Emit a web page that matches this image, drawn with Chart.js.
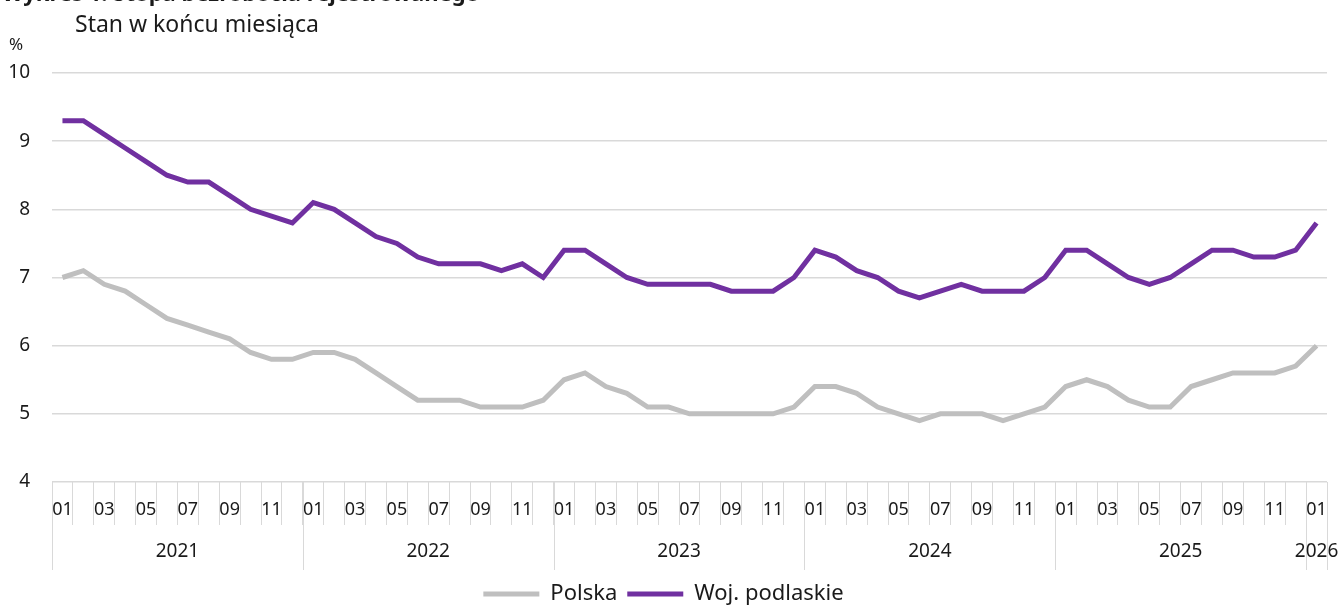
<!DOCTYPE html>
<html>
<head>
<meta charset="utf-8">
<script src="https://cdn.jsdelivr.net/npm/chart.js@4.4.1/dist/chart.umd.min.js"></script>
<style>
  html, body { margin: 0; padding: 0; background: #fff; }
  #wrap { width: 1342px; height: 605px; }
</style>
</head>
<body>
<div id="wrap"><canvas id="unemp"></canvas></div>
<script>
// months 2021-01 .. 2026-01
const years = ['2021', '2022', '2023', '2024', '2025', '2026'];
const monthNames = ['01','02','03','04','05','06','07','08','09','10','11','12'];

const labels = [];
years.forEach(y => {
    const n = y === '2026' ? 1 : 12;
    for (let m = 0; m < n; m++) labels.push(y + '-' + monthNames[m]);
});

const polska = [
    7.0, 7.1, 6.9, 6.8, 6.6, 6.4, 6.3, 6.2, 6.1, 5.9, 5.8, 5.8,
    5.9, 5.9, 5.8, 5.6, 5.4, 5.2, 5.2, 5.2, 5.1, 5.1, 5.1, 5.2,
    5.5, 5.6, 5.4, 5.3, 5.1, 5.1, 5.0, 5.0, 5.0, 5.0, 5.0, 5.1,
    5.4, 5.4, 5.3, 5.1, 5.0, 4.9, 5.0, 5.0, 5.0, 4.9, 5.0, 5.1,
    5.4, 5.5, 5.4, 5.2, 5.1, 5.1, 5.4, 5.5, 5.6, 5.6, 5.6, 5.7,
    6.0
];

const podlaskie = [
    9.3, 9.3, 9.1, 8.9, 8.7, 8.5, 8.4, 8.4, 8.2, 8.0, 7.9, 7.8,
    8.1, 8.0, 7.8, 7.6, 7.5, 7.3, 7.2, 7.2, 7.2, 7.1, 7.2, 7.0,
    7.4, 7.4, 7.2, 7.0, 6.9, 6.9, 6.9, 6.9, 6.8, 6.8, 6.8, 7.0,
    7.4, 7.3, 7.1, 7.0, 6.8, 6.7, 6.8, 6.9, 6.8, 6.8, 6.8, 7.0,
    7.4, 7.4, 7.2, 7.0, 6.9, 7.0, 7.2, 7.4, 7.4, 7.3, 7.3, 7.4,
    7.8
];

const FONT = "'Noto Sans', sans-serif";
const TXT = '#1a1a1a';
const GRID = '#d9d9d9';

// titles, % unit, year row under the month ticks
const extras = {
    id: 'extras',
    afterDraw(chart) {
        const ctx = chart.ctx;
        const x = chart.scales.x;
        const area = chart.chartArea;
        ctx.save();
        ctx.fillStyle = TXT;
        ctx.font = "bold 22px " + FONT;
        ctx.textBaseline = 'alphabetic';
        ctx.fillText('Wykres 1. Stopa bezrobocia rejestrowanego', 2, 1);
        ctx.font = "23px " + FONT;
        ctx.textBaseline = 'middle';
        ctx.fillText('Stan w końcu miesiąca', 75, 25);
        ctx.font = "17px " + FONT;
        ctx.fillText('%', 9, 45);

        // year separators and labels
        const step = x.getPixelForValue(1) - x.getPixelForValue(0);
        const edge = i => {
            if (i <= 0) return x.getPixelForValue(0) - step / 2;
            if (i >= labels.length) return x.getPixelForValue(labels.length - 1) + step / 2;
            return (x.getPixelForValue(i - 1) + x.getPixelForValue(i)) / 2;
        };
        ctx.strokeStyle = GRID;
        ctx.lineWidth = 1;
        ctx.font = "19px " + FONT;
        ctx.textAlign = 'center';
        let start = 0;
        years.forEach(y => {
            const n = y === '2026' ? 1 : 12;
            const x0 = edge(start), x1 = edge(start + n);
            ctx.beginPath();
            ctx.moveTo(Math.round(x0) + 0.5, area.bottom);
            ctx.lineTo(Math.round(x0) + 0.5, area.bottom + 88);
            ctx.stroke();
            ctx.fillText(y, (x0 + x1) / 2, area.bottom + 70);
            start += n;
        });
        const xe = edge(labels.length);
        ctx.beginPath();
        ctx.moveTo(Math.round(xe) + 0.5, area.bottom);
        ctx.lineTo(Math.round(xe) + 0.5, area.bottom + 88);
        ctx.stroke();
        ctx.restore();
    }
};

new Chart(document.getElementById('unemp'), {
    type: 'line',
    data: {
        labels: labels,
        datasets: [
            {
                label: 'Polska',
                data: polska,
                borderColor: '#bfbfbf',
                backgroundColor: '#bfbfbf',
                borderWidth: 5,
                pointRadius: 0,
                tension: 0
            },
            {
                label: 'Woj. podlaskie',
                data: podlaskie,
                borderColor: '#7030a0',
                backgroundColor: '#7030a0',
                borderWidth: 5,
                pointRadius: 0,
                tension: 0
            }
        ]
    },
    options: {
        responsive: true,
        maintainAspectRatio: false,
        animation: false,
        layout: { padding: { top: 73, right: 15, left: 0, bottom: -10 } },
        plugins: {
            title: { display: false },
            tooltip: { enabled: false },
            legend: {
                display: true,
                position: 'bottom',
                labels: {
                    usePointStyle: true,
                    pointStyle: 'line',
                    pointStyleWidth: 56,
                    color: TXT,
                    font: { family: FONT, size: 22 },
                    padding: 10
                }
            }
        },
        scales: {
            x: {
                offset: true,
                afterFit: s => { s.height = 91; },
                grid: {
                    offset: true,
                    drawOnChartArea: false,
                    tickLength: 43,
                    color: GRID
                },
                border: { display: false },
                ticks: {
                    autoSkip: false,
                    maxRotation: 0,
                    padding: -26,
                    color: TXT,
                    font: { family: FONT, size: 18 },
                    callback: function (v, i) {
                        return i % 2 === 0 ? labels[i].slice(5) : '';
                    }
                }
            },
            y: {
                min: 4,
                max: 10,
                afterFit: s => { s.width = 52; },
                grid: { color: GRID, drawTicks: false, lineWidth: 1.5 },
                border: { display: false },
                ticks: {
                    stepSize: 1,
                    padding: 22,
                    color: TXT,
                    font: { family: FONT, size: 19 }
                }
            }
        }
    },
    plugins: [extras]
});
</script>
</body>
</html>
